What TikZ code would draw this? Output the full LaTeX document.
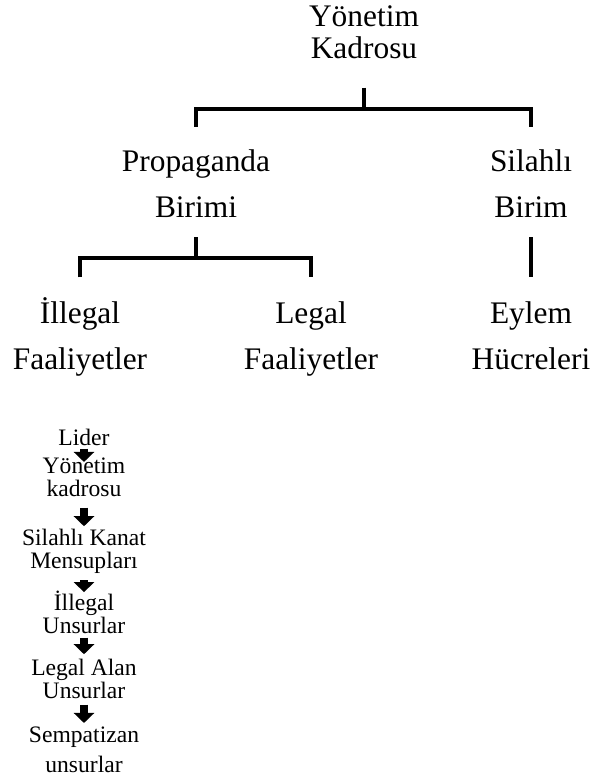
\documentclass[tikz,border=0pt]{standalone}
\usepackage{fontspec}
\setmainfont{Liberation Serif}
\usetikzlibrary{arrows.meta,calc}

\begin{document}
\begin{tikzpicture}[x=0.5pt,y=-0.5pt,
    unit/.style={align=center,inner sep=0pt,anchor=base,font=\fontsize{15.7}{23}\selectfont},
    chainlbl/.style={align=center,inner sep=0pt,anchor=base,font=\fontsize{11.8}{11.5}\selectfont},
    branch/.style={line width=2pt},
    pointer/.style={line width=4pt,-{Triangle[width=10pt,length=5pt]}}]
    \useasboundingbox (0,0) rectangle (594,780);
    % Draw the units
    \node[unit,font=\fontsize{15.7}{16}\selectfont] (yk) at (364,59) {Yönetim\\Kadrosu};
    \node[unit] (pb) at (196,218) {Propaganda\\Birimi};
    \node[unit] (sb) at (531,218) {Silahlı\\Birim};
    \node[unit] (if) at (80,369) {İllegal\\Faaliyetler};
    \node[unit] (lf) at (311,369) {Legal\\Faaliyetler};
    \node[unit] (eh) at (531,369) {Eylem\\Hücreleri};
    % Draw the brackets
    \draw[branch] ([yshift=-14pt]yk.south) -- ([yshift=-24.5pt]yk.south) coordinate (bar1);
    \draw[branch] ($(pb.north |- bar1)+(0,18)$) |- (bar1) -| ($(sb.north |- bar1)+(0,18)$);
    \draw[branch] ([yshift=-9.5pt]pb.south) -- ([yshift=-20pt]pb.south) coordinate (bar2);
    \draw[branch] ($(if.north |- bar2)+(0,19)$) |- (bar2) -| ($(lf.north |- bar2)+(0,19)$);
    \draw[branch] ([yshift=-9.5pt]sb.south) -- ($(sb.south |- bar2)+(0,19)$);
    % Draw the chain
    \node[chainlbl] (ld) at (84,445) {Lider};
    \node[chainlbl] (yk2) at (84,496) {Yönetim\\kadrosu};
    \node[chainlbl] (sk) at (84,568) {Silahlı Kanat\\Mensupları};
    \node[chainlbl] (iu) at (84,633) {İllegal\\Unsurlar};
    \node[chainlbl] (la) at (84,698) {Legal Alan\\Unsurlar};
    \node[chainlbl] (su) at (84,772) {Sempatizan\\[3.5pt]unsurlar};
    \foreach \a/\b/\s/\e in {ld/yk2/1.5pt/-2.5pt,yk2/sk/5.5pt/1pt,sk/iu/3.5pt/-1pt,iu/la/2pt/2pt,la/su/3pt/1.5pt}
        \draw[pointer,shorten <=\s,shorten >=\e] (\a.south) -- (\b.north);
\end{tikzpicture}
\end{document}
